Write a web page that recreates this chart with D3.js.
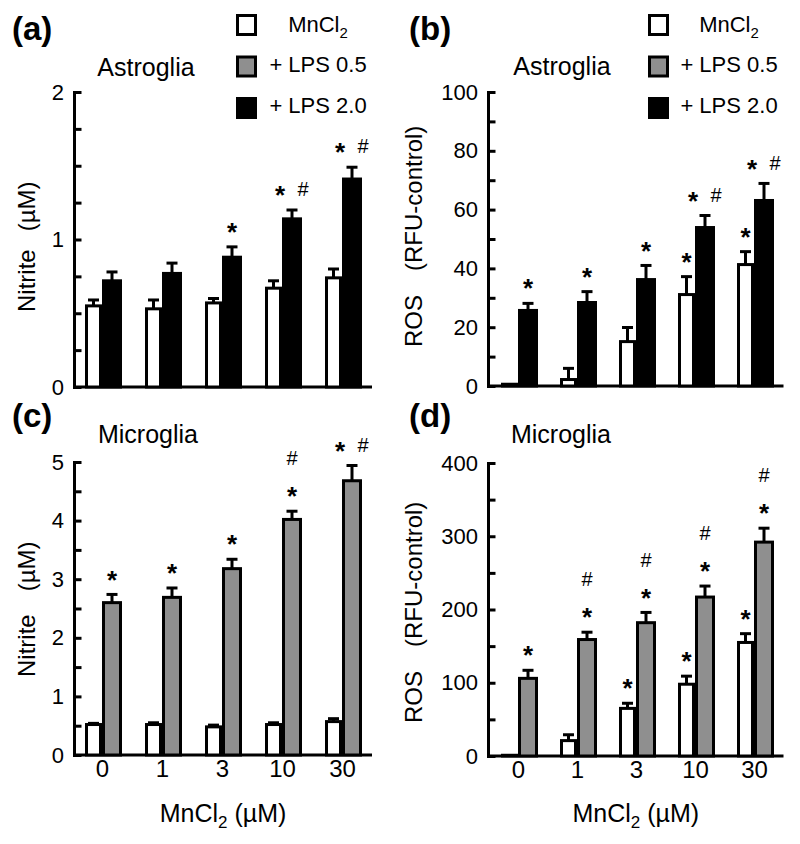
<!DOCTYPE html>
<html>
<head>
<meta charset="utf-8">
<script src="https://cdn.jsdelivr.net/npm/d3@7"></script>
<style>
  html, body { margin: 0; padding: 0; background: #fff; }
  svg { display: block; font-family: "Liberation Sans", Arial, sans-serif; }
</style>
</head>
<body>
<svg id="chart" width="800" height="844"></svg>
<script>
// ---------- data ----------
const groups = ["0", "1", "3", "10", "30"];
const legendLabels = ["MnCl", "+ LPS 0.5", "+ LPS 2.0"];

// (a) Astroglia nitrite (µM)
const aMn      = [0.55, 0.53, 0.57, 0.67, 0.74];
const aMnErr   = [0.04, 0.06, 0.03, 0.05, 0.06];
const aLps2    = [0.72, 0.77, 0.88, 1.14, 1.41];
const aLps2Err = [0.06, 0.07, 0.07, 0.06, 0.08];
const aMnSig   = ["", "", "", "", ""];
const aLps2Sig = ["", "", "*", "* #", "* #"];
const aTicks   = [0, 1, 2];

// (b) Astroglia ROS (RFU-control)
const bMn      = [0.6, 2.2, 15.1, 31.1, 41.3];
const bMnErr   = [0, 3.8, 4.8, 6.1, 4.4];
const bLps2    = [25.7, 28.4, 36.2, 53.9, 63.1];
const bLps2Err = [2.4, 3.7, 4.8, 4.1, 5.8];
const bMnSig   = ["", "", "", "*", "*"];
const bLps2Sig = ["*", "*", "*", "* #", "* #"];
const bTicks   = [0, 20, 40, 60, 80, 100];

// (c) Microglia nitrite (µM)
const cMn       = [0.52, 0.52, 0.48, 0.52, 0.57];
const cMnErr    = [0.02, 0.03, 0.03, 0.03, 0.05];
const cLps05    = [2.60, 2.69, 3.18, 4.02, 4.68];
const cLps05Err = [0.14, 0.16, 0.16, 0.14, 0.26];
const cMnSig    = ["", "", "", "", ""];
const cLps05Sig = ["*", "*", "*", "*/#", "* #"];
const cTicks    = [0, 1, 2, 3, 4, 5];

// (d) Microglia ROS (RFU-control)
const dMn       = [1, 21, 65, 98, 155];
const dMnErr    = [0, 8, 7, 11, 12];
const dLps05    = [106, 159, 182, 217, 292];
const dLps05Err = [11, 10, 14, 15, 19];
const dMnSig    = ["", "", "*", "*", "*"];
const dLps05Sig = ["*", "*/#", "*/#", "*/#", "*/#"];
const dTicks    = [0, 100, 200, 300, 400];

// ---------- styles ----------
const WHITE = "#ffffff", GRAY = "#8f8f8f", BLACK = "#000000";
const svg = d3.select("#chart");

function addMnCl(textSel, size) {
  textSel.append("tspan").text("MnCl");
  textSel.append("tspan").attr("font-size", size * 0.68).attr("dy", size * 0.25).text("2");
}

function drawPanel(cfg) {
  const g = svg.append("g");
  const x = d3.scalePoint().domain(groups).range(cfg.xr).padding(0.5);
  const y = d3.scaleLinear().domain([0, cfg.ymax]).range([cfg.bottom, cfg.top]);

  // axes
  const allTicks = d3.range(0, cfg.ymax + 1e-9, cfg.minor);
  const yAxis = d3.axisLeft(y).tickValues(allTicks).tickSizeInner(-6).tickSizeOuter(0)
    .tickPadding(10).tickFormat(d => cfg.ticks.some(t => Math.abs(t - d) < 1e-9) ? d3.format("d")(d) : "");
  const ya = g.append("g").attr("transform", `translate(${cfg.axisX},0)`).call(yAxis);
  ya.select(".domain").attr("stroke", "#000").attr("stroke-width", 3).attr("stroke-linecap", "square");
  ya.selectAll(".tick line").attr("stroke", "#000").attr("stroke-width", 3).attr("transform", "translate(1.5,0)");
  ya.selectAll(".tick text").attr("font-size", 22).attr("font-family", "Liberation Sans, Arial, sans-serif").attr("fill", "#000");

  const xAxis = d3.axisBottom(x).tickSize(0).tickPadding(5).tickFormat(cfg.xLabels ? d => d : () => "");
  const xa = g.append("g").attr("transform", `translate(0,${cfg.bottom})`).call(xAxis);
  xa.select(".domain").attr("stroke", "#000").attr("stroke-width", 3).attr("d", `M${cfg.axisX},0H${cfg.xr[1]}`);
  xa.selectAll(".tick text").attr("font-size", 24).attr("font-family", "Liberation Sans, Arial, sans-serif").attr("fill", "#000");

  // bars
  cfg.series.forEach((s, si) => {
    const outerL = si === 0 ? -17 : 0;
    const outerW = si === 0 ? 17 : 20;
    groups.forEach((grp, i) => {
      const xc = x(grp);
      const v = s.values[i];
      const bx = xc + outerL + 1.5, bw = outerW - 3;
      const cx = xc + outerL + outerW / 2;
      g.append("rect").attr("x", bx).attr("y", y(v)).attr("width", bw)
        .attr("height", Math.max(0, y(0) - y(v)))
        .attr("fill", s.fill).attr("stroke", "#000").attr("stroke-width", 3);
      const e = s.errs[i];
      if (e > 0) {
        g.append("line").attr("x1", cx).attr("x2", cx).attr("y1", y(v)).attr("y2", y(v + e))
          .attr("stroke", "#000").attr("stroke-width", 3);
        g.append("line").attr("x1", cx - 5.5).attr("x2", cx + 5.5).attr("y1", y(v + e)).attr("y2", y(v + e))
          .attr("stroke", "#000").attr("stroke-width", 3);
      }
      const sig = s.sig[i];
      if (sig) {
        const cy = y(v + e) - 21;
        const star = (px, py) => g.append("text").attr("x", px).attr("y", py + 0.58 * 26)
          .attr("text-anchor", "middle").attr("font-size", 26).attr("font-weight", "bold").text("*");
        const hash = (px, py) => g.append("text").attr("x", px).attr("y", py + 0.36 * 20)
          .attr("text-anchor", "middle").attr("font-size", 20).text("#");
        if (sig === "*") star(cx, cy);
        else if (sig === "* #") { star(cx - 12, cy); hash(cx + 11, cy); }
        else if (sig === "*/#") { star(cx, cy); hash(cx, cy - 32); }
      }
    });
  });

  // panel label + title
  g.append("text").attr("x", cfg.labelX).attr("y", cfg.labelY).attr("font-size", 33)
    .attr("font-weight", "bold").text(cfg.label);
  g.append("text").attr("x", cfg.titleX).attr("y", cfg.titleY).attr("font-size", 25)
    .attr("text-anchor", "middle").text(cfg.title);

  // y title
  const yt = g.append("text").attr("transform", `translate(${cfg.ytX},${cfg.ytY}) rotate(-90)`)
    .attr("font-size", 24);
  yt.append("tspan").text(cfg.yt1);
  yt.append("tspan").attr("dx", cfg.ytGap).text(cfg.yt2);

  // x title
  if (cfg.xLabels) {
    const xt = g.append("text").attr("x", (cfg.axisX + cfg.xr[1]) / 2 + 0).attr("y", 822)
      .attr("font-size", 25).attr("text-anchor", "middle");
    xt.append("tspan").text("MnCl");
    xt.append("tspan").attr("font-size", 17).attr("dy", 6).text("2");
    xt.append("tspan").attr("dy", -6).text(" (\u00b5M)");
  }

  // legend
  if (cfg.legend) {
    const fills = [WHITE, GRAY, BLACK];
    const ys = [15.5, 57, 98.5];
    const bl = [32, 72, 113];
    fills.forEach((f, i) => {
      g.append("rect").attr("x", cfg.legX + 1.5).attr("y", ys[i]).attr("width", 18).attr("height", 19)
        .attr("fill", f).attr("stroke", "#000").attr("stroke-width", 3);
      const t = g.append("text").attr("x", cfg.legTextX).attr("y", bl[i]).attr("font-size", 22)
        .attr("text-anchor", "middle");
      if (i === 0) addMnCl(t, 22); else t.text(legendLabels[i]);
    });
  }
}

drawPanel({
  xr: [72, 372], axisX: 74, bottom: 387, top: 92, ymax: 2, minor: 0.25, ticks: aTicks,
  series: [
    { values: aMn, errs: aMnErr, sig: aMnSig, fill: WHITE },
    { values: aLps2, errs: aLps2Err, sig: aLps2Sig, fill: BLACK }
  ],
  xLabels: false, label: "(a)", labelX: 12, labelY: 40, title: "Astroglia", titleX: 146, titleY: 76,
  ytX: 35, ytY: 312, yt1: "Nitrite", yt2: "(\u00b5M)", ytGap: 18,
  legend: true, legX: 236, legTextX: 318
});

drawPanel({
  xr: [488.5, 783.5], axisX: 488, bottom: 386, top: 92, ymax: 100, minor: 10, ticks: bTicks,
  series: [
    { values: bMn, errs: bMnErr, sig: bMnSig, fill: WHITE },
    { values: bLps2, errs: bLps2Err, sig: bLps2Sig, fill: BLACK }
  ],
  xLabels: false, label: "(b)", labelX: 409, labelY: 40, title: "Astroglia", titleX: 562, titleY: 75,
  ytX: 422, ytY: 347, yt1: "ROS", yt2: "(RFU-control)", ytGap: 24,
  legend: true, legX: 648, legTextX: 729
});

drawPanel({
  xr: [72, 372], axisX: 74, bottom: 755, top: 462, ymax: 5, minor: 0.5, ticks: cTicks,
  series: [
    { values: cMn, errs: cMnErr, sig: cMnSig, fill: WHITE },
    { values: cLps05, errs: cLps05Err, sig: cLps05Sig, fill: GRAY }
  ],
  xLabels: true, label: "(c)", labelX: 12, labelY: 427, title: "Microglia", titleX: 148, titleY: 443,
  ytX: 35, ytY: 677, yt1: "Nitrite", yt2: "(\u00b5M)", ytGap: 23,
  legend: false
});

drawPanel({
  xr: [488.5, 783.5], axisX: 488, bottom: 756, top: 463, ymax: 400, minor: 50, ticks: dTicks,
  series: [
    { values: dMn, errs: dMnErr, sig: dMnSig, fill: WHITE },
    { values: dLps05, errs: dLps05Err, sig: dLps05Sig, fill: GRAY }
  ],
  xLabels: true, label: "(d)", labelX: 409, labelY: 427, title: "Microglia", titleX: 561, titleY: 443,
  ytX: 422, ytY: 723, yt1: "ROS", yt2: "(RFU-control)", ytGap: 24,
  legend: false
});
</script>
</body>
</html>
